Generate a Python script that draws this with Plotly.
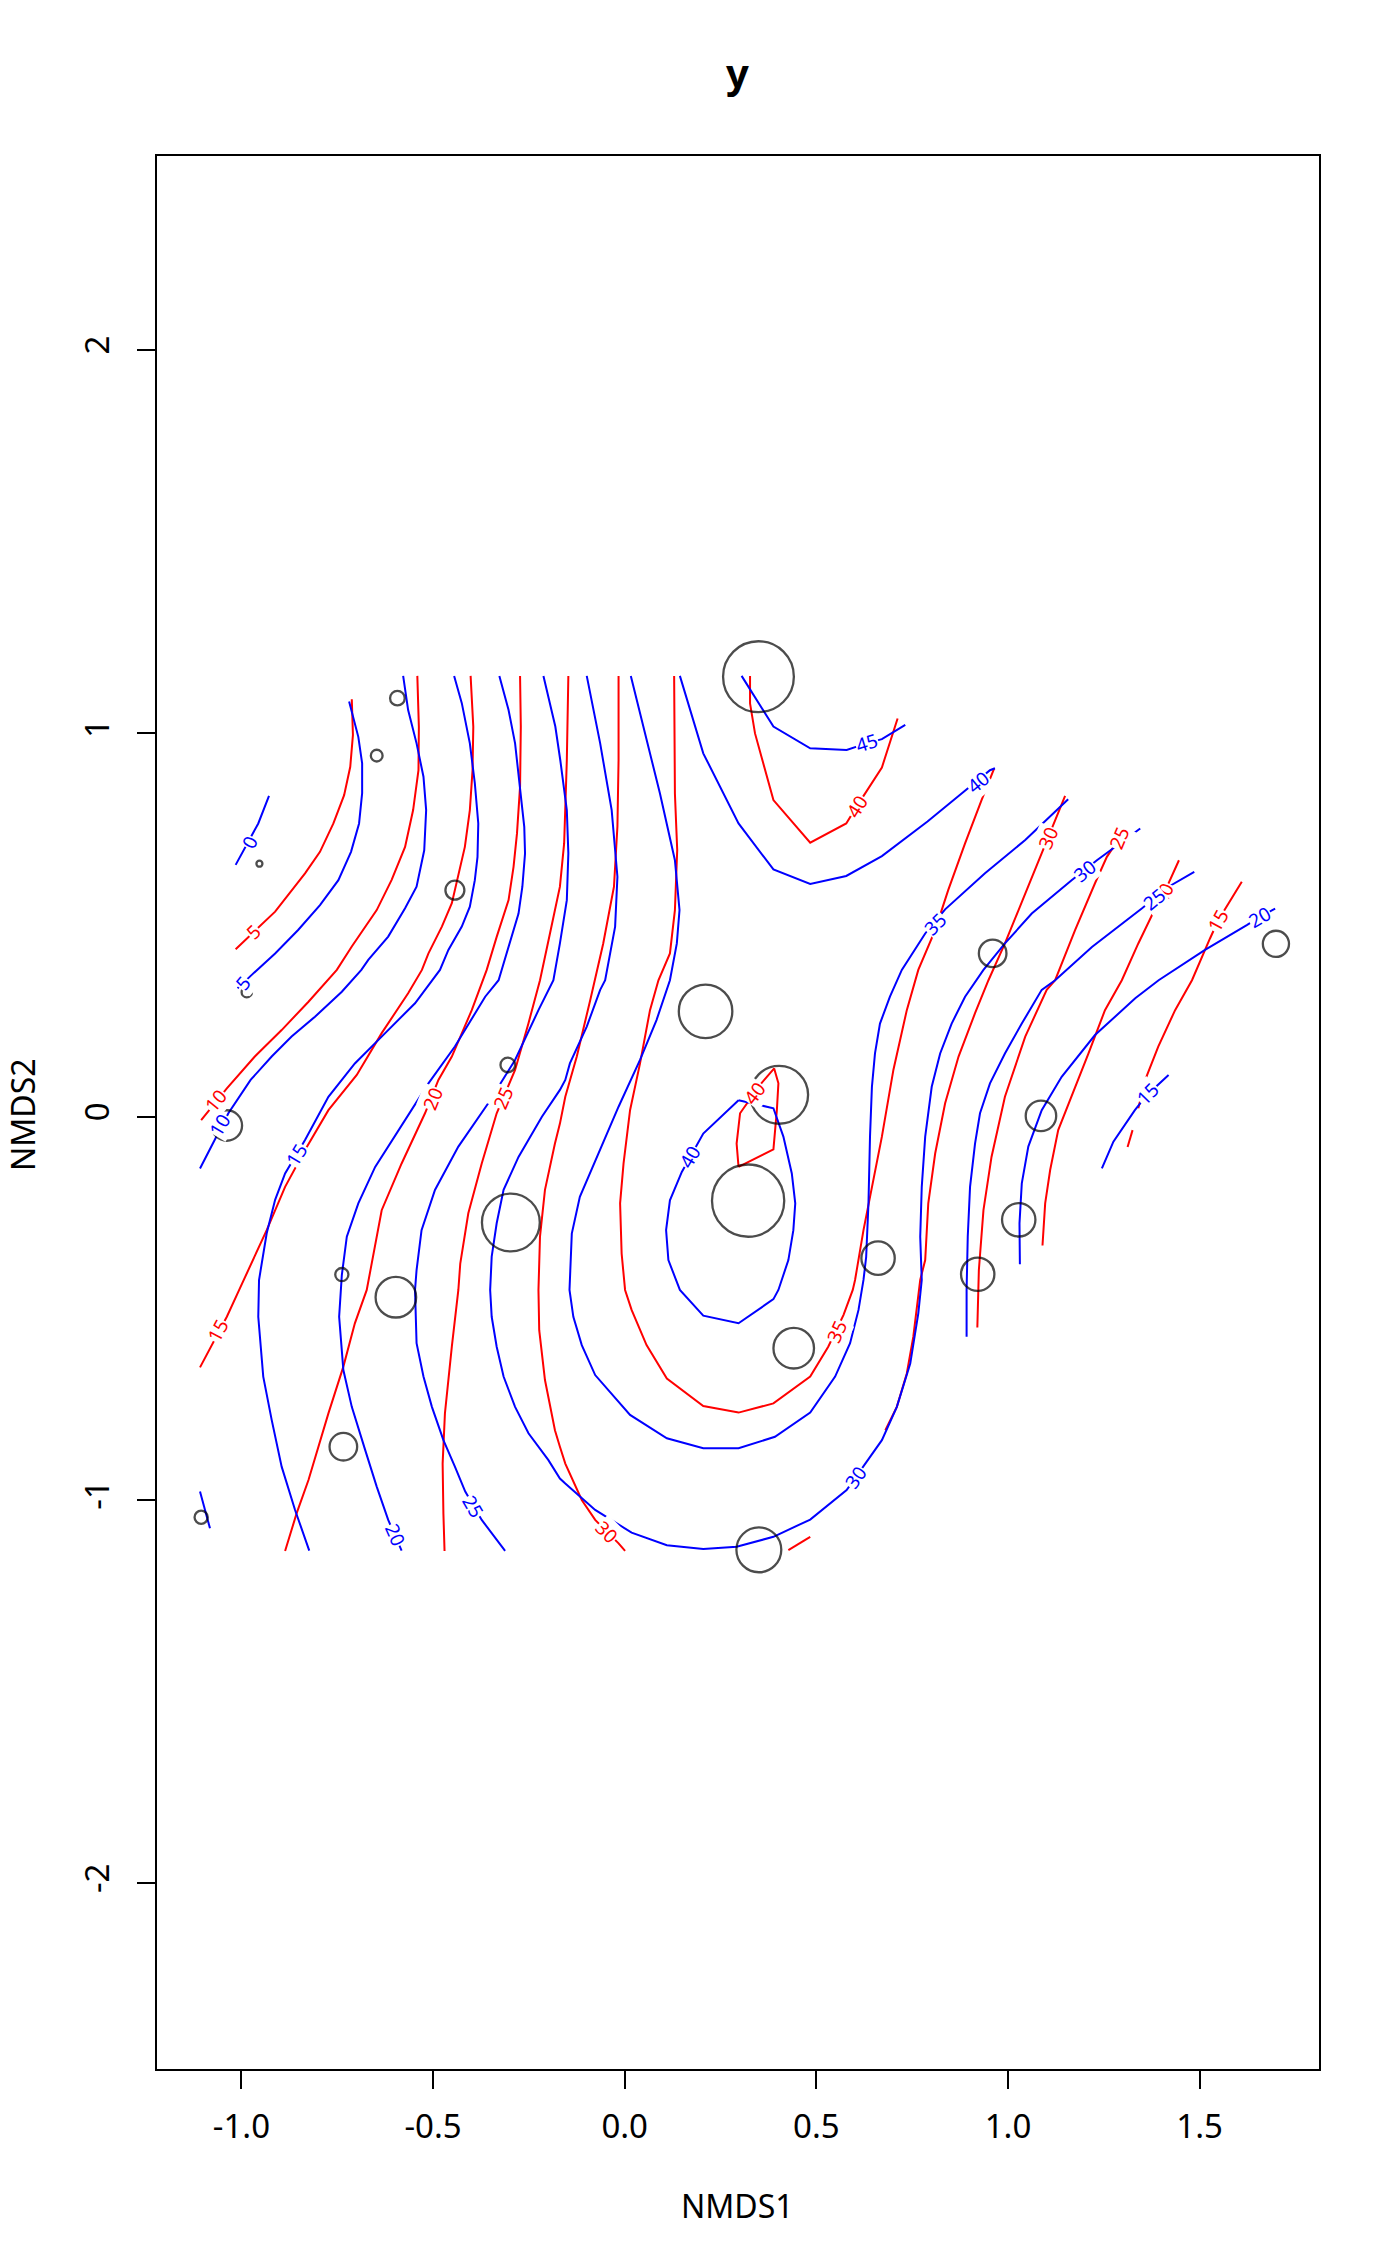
import plotly.graph_objects as go

# site scores on the two NMDS axes, and the response used for bubble size
site_x = [0.349, -0.593, -0.647, -0.953, -0.443, -0.986, -0.305, -1.038, 0.211, 0.403, 0.322, -0.297,
          -0.738, -0.597, -0.734, -1.105, 0.441, 0.661, 0.350, 0.921, 0.960, 1.028, 1.086, 1.699]
site_y = [1.148, 1.092, 0.942, 0.660, 0.591, 0.325, 0.135, -0.023, 0.275, 0.057, -0.219, -0.276,
          -0.412, -0.471, -0.861, -1.045, -0.604, -0.369, -1.130, -0.411, 0.426, -0.269, 0.002, 0.451]
site_resp = [45, 6, 4, 0, 9, 3, 6, 17, 33, 36, 46, 36, 5, 24, 15, 5, 24, 19, 27, 19, 15, 19, 17, 14]

# red surface, contour lines as (NMDS1, NMDS2) points
red_05 = [(-0.712, 1.089), (-0.709, 0.996), (-0.716, 0.913), (-0.732, 0.839), (-0.760, 0.765), (-0.795, 0.691),
          (-0.834, 0.635), (-0.869, 0.591), (-0.912, 0.535), (-1.015, 0.437)]
red_10 = [(-0.541, 1.150), (-0.537, 1.017), (-0.538, 0.904), (-0.552, 0.800), (-0.573, 0.704), (-0.608, 0.618),
          (-0.647, 0.539), (-0.712, 0.444), (-0.751, 0.383), (-0.825, 0.300), (-0.895, 0.226), (-0.965, 0.157),
          (-1.038, 0.074), (-1.105, -0.009)]
red_15 = [(-0.402, 1.150), (-0.395, 1.017), (-0.397, 0.904), (-0.404, 0.800), (-0.417, 0.704), (-0.434, 0.626),
          (-0.451, 0.557), (-0.477, 0.496), (-0.512, 0.426), (-0.529, 0.383), (-0.565, 0.322), (-0.634, 0.218),
          (-0.699, 0.109), (-0.773, 0.017), (-0.834, -0.087), (-0.886, -0.183), (-0.934, -0.296), (-1.004, -0.448),
          (-1.038, -0.522), (-1.108, -0.654)]
red_20 = [(-0.273, 1.150), (-0.271, 1.018), (-0.273, 0.861), (-0.281, 0.739), (-0.290, 0.652), (-0.303, 0.565),
          (-0.334, 0.469), (-0.360, 0.383), (-0.399, 0.278), (-0.451, 0.157), (-0.486, 0.096), (-0.521, 0.009),
          (-0.582, -0.122), (-0.634, -0.244), (-0.673, -0.452), (-0.704, -0.539), (-0.734, -0.652),
          (-0.773, -0.774), (-0.825, -0.948), (-0.856, -1.035), (-0.886, -1.133)]
red_25 = [(-0.147, 1.150), (-0.151, 0.930), (-0.158, 0.713), (-0.169, 0.600), (-0.195, 0.478), (-0.221, 0.356),
          (-0.251, 0.244), (-0.286, 0.122), (-0.334, 0.009), (-0.373, -0.122), (-0.408, -0.252), (-0.429, -0.383),
          (-0.434, -0.452), (-0.451, -0.600), (-0.469, -0.774), (-0.475, -0.905), (-0.473, -1.035), (-0.470, -1.133)]
red_30 = [(-0.016, 1.150), (-0.016, 0.930), (-0.019, 0.757), (-0.028, 0.600), (-0.056, 0.452), (-0.077, 0.356),
          (-0.090, 0.304), (-0.125, 0.157), (-0.155, 0.052), (-0.169, -0.018), (-0.182, -0.070), (-0.208, -0.191),
          (-0.221, -0.313), (-0.225, -0.452), (-0.223, -0.557), (-0.208, -0.687), (-0.182, -0.818),
          (-0.169, -0.861), (-0.155, -0.905), (-0.112, -1.000), (-0.077, -1.052), (-0.016, -1.113), (0.001, -1.133)]
red_35 = [(0.129, 1.150), (0.131, 0.843), (0.137, 0.696), (0.131, 0.539), (0.118, 0.426), (0.088, 0.356),
          (0.066, 0.278), (0.040, 0.139), (0.014, 0.017), (-0.003, -0.122), (-0.012, -0.226), (-0.008, -0.357),
          (0.001, -0.452), (0.018, -0.504), (0.057, -0.596), (0.110, -0.683), (0.205, -0.755), (0.297, -0.772),
          (0.388, -0.748), (0.484, -0.678), (0.531, -0.600), (0.571, -0.517), (0.595, -0.452), (0.601, -0.426),
          (0.623, -0.296), (0.645, -0.183), (0.671, -0.052), (0.701, 0.122), (0.736, 0.278), (0.766, 0.383),
          (0.784, 0.426), (0.810, 0.487), (0.844, 0.591), (0.888, 0.713), (0.931, 0.826), (0.964, 0.909)]
red_40 = [(0.327, 1.150), (0.327, 1.078), (0.340, 1.000), (0.388, 0.826), (0.484, 0.715), (0.578, 0.765),
          (0.605, 0.809), (0.627, 0.843), (0.671, 0.911), (0.712, 1.039)]
red_40_inner = [(0.297, -0.131), (0.388, -0.085), (0.397, 0.017), (0.401, 0.087), (0.390, 0.126), (0.353, 0.083),
                (0.301, 0.009), (0.292, -0.070), (0.297, -0.131)]
red_30_right = [(1.149, 0.837), (1.105, 0.730), (1.088, 0.691), (1.045, 0.582), (0.992, 0.452), (0.962, 0.383),
                (0.949, 0.356), (0.914, 0.270), (0.871, 0.157), (0.836, 0.035), (0.810, -0.096), (0.792, -0.226),
                (0.784, -0.374), (0.771, -0.426), (0.753, -0.574), (0.736, -0.670), (0.710, -0.757), (0.680, -0.818)]
red_30_tail = [(0.484, -1.096), (0.427, -1.131)]
red_25_right = [(1.305, 0.748), (1.258, 0.678), (1.227, 0.609), (1.175, 0.487), (1.123, 0.356), (1.101, 0.331),
                (1.045, 0.209), (0.992, 0.052), (0.957, -0.105), (0.936, -0.244), (0.924, -0.400), (0.923, -0.452),
                (0.920, -0.550)]
red_20_right = [(1.446, 0.669), (1.405, 0.578), (1.384, 0.543), (1.340, 0.452), (1.297, 0.356), (1.253, 0.278),
                (1.210, 0.165), (1.166, 0.052), (1.131, -0.035), (1.110, -0.139), (1.097, -0.226), (1.090, -0.336)]
red_15_right = [(1.610, 0.613), (1.549, 0.513), (1.527, 0.465), (1.480, 0.356), (1.436, 0.278), (1.392, 0.183),
                (1.358, 0.096), (1.340, 0.022)]
red_15_tail = [(1.325, -0.035), (1.312, -0.079)]

# blue surface
blue_00 = [(-1.015, 0.657), (-0.956, 0.765), (-0.928, 0.837)]
blue_05 = [(-0.719, 1.083), (-0.695, 0.991), (-0.685, 0.922), (-0.685, 0.844), (-0.693, 0.765), (-0.714, 0.691),
           (-0.747, 0.617), (-0.795, 0.552), (-0.852, 0.487), (-0.912, 0.426), (-0.973, 0.370), (-1.010, 0.335)]
blue_10 = [(-0.578, 1.150), (-0.565, 1.061), (-0.543, 0.974), (-0.525, 0.887), (-0.518, 0.800), (-0.523, 0.695),
           (-0.543, 0.600), (-0.573, 0.544), (-0.617, 0.470), (-0.669, 0.409), (-0.687, 0.383), (-0.738, 0.326),
           (-0.808, 0.261), (-0.869, 0.209), (-0.921, 0.157), (-0.976, 0.096), (-1.034, 0.009), (-1.108, -0.135)]
blue_15 = [(-0.445, 1.150), (-0.425, 1.079), (-0.404, 0.974), (-0.391, 0.870), (-0.382, 0.765), (-0.384, 0.678),
           (-0.391, 0.617), (-0.404, 0.548), (-0.425, 0.496), (-0.460, 0.435), (-0.482, 0.383), (-0.547, 0.296),
           (-0.634, 0.209), (-0.704, 0.139), (-0.773, 0.052), (-0.834, -0.061), (-0.886, -0.148), (-0.912, -0.217),
           (-0.934, -0.304), (-0.947, -0.382), (-0.954, -0.426), (-0.956, -0.522), (-0.943, -0.678),
           (-0.921, -0.791), (-0.895, -0.913), (-0.860, -1.026), (-0.823, -1.132)]
blue_20 = [(-0.327, 1.150), (-0.303, 1.061), (-0.286, 0.974), (-0.273, 0.861), (-0.262, 0.756), (-0.260, 0.687),
           (-0.267, 0.600), (-0.277, 0.530), (-0.303, 0.443), (-0.329, 0.356), (-0.364, 0.313), (-0.443, 0.183),
           (-0.512, 0.087), (-0.590, -0.035), (-0.651, -0.131), (-0.695, -0.226), (-0.725, -0.313),
           (-0.738, -0.413), (-0.745, -0.522), (-0.734, -0.661), (-0.712, -0.757), (-0.677, -0.870),
           (-0.647, -0.965), (-0.617, -1.052), (-0.582, -1.132)]
blue_25 = [(-0.212, 1.150), (-0.181, 1.018), (-0.168, 0.930), (-0.151, 0.800), (-0.147, 0.687), (-0.151, 0.565),
           (-0.169, 0.452), (-0.186, 0.356), (-0.225, 0.278), (-0.286, 0.148), (-0.356, 0.035), (-0.434, -0.078),
           (-0.495, -0.191), (-0.530, -0.296), (-0.543, -0.400), (-0.547, -0.452), (-0.543, -0.591),
           (-0.525, -0.678), (-0.503, -0.757), (-0.473, -0.844), (-0.443, -0.913), (-0.416, -0.978),
           (-0.373, -1.052), (-0.312, -1.133)]
blue_30 = [(-0.099, 1.150), (-0.064, 0.974), (-0.034, 0.800), (-0.019, 0.626), (-0.025, 0.496), (-0.051, 0.356),
           (-0.064, 0.331), (-0.099, 0.235), (-0.143, 0.139), (-0.155, 0.096), (-0.169, 0.070), (-0.216, 0.000),
           (-0.277, -0.105), (-0.316, -0.191), (-0.334, -0.278), (-0.347, -0.365), (-0.351, -0.452),
           (-0.347, -0.522), (-0.334, -0.600), (-0.316, -0.678), (-0.286, -0.757), (-0.251, -0.826),
           (-0.199, -0.896), (-0.169, -0.944), (-0.155, -0.957), (-0.077, -1.026), (0.018, -1.085),
           (0.110, -1.118), (0.205, -1.128), (0.292, -1.122), (0.388, -1.096), (0.484, -1.051), (0.579, -0.974),
           (0.671, -0.844), (0.710, -0.757), (0.745, -0.644), (0.766, -0.513), (0.775, -0.426), (0.771, -0.313),
           (0.775, -0.183), (0.784, -0.052), (0.797, 0.052), (0.801, 0.078), (0.823, 0.165), (0.853, 0.243),
           (0.888, 0.313), (0.918, 0.356), (0.936, 0.383), (0.992, 0.452), (1.062, 0.530), (1.166, 0.617),
           (1.232, 0.669), (1.345, 0.752)]
blue_35 = [(0.016, 1.150), (0.049, 1.018), (0.092, 0.843), (0.131, 0.669), (0.143, 0.539), (0.136, 0.452),
           (0.118, 0.356), (0.083, 0.252), (0.040, 0.148), (-0.016, 0.026), (-0.073, -0.105), (-0.117, -0.209),
           (-0.138, -0.305), (-0.144, -0.452), (-0.134, -0.522), (-0.112, -0.596), (-0.077, -0.674),
           (0.014, -0.778), (0.110, -0.839), (0.205, -0.865), (0.297, -0.865), (0.392, -0.835), (0.484, -0.772),
           (0.549, -0.678), (0.588, -0.591), (0.610, -0.504), (0.623, -0.426), (0.630, -0.366), (0.636, -0.226),
           (0.640, -0.052), (0.645, 0.078), (0.653, 0.165), (0.666, 0.243), (0.692, 0.313), (0.723, 0.383),
           (0.784, 0.478), (0.836, 0.541), (0.940, 0.635), (1.045, 0.722), (1.157, 0.828)]
blue_40 = [(0.144, 1.150), (0.205, 0.948), (0.297, 0.765), (0.388, 0.645), (0.484, 0.607), (0.578, 0.628),
           (0.671, 0.680), (0.790, 0.770), (0.879, 0.843), (0.953, 0.904), (0.966, 0.909)]
blue_40_inner = [(0.297, 0.043), (0.388, 0.022), (0.414, -0.052), (0.436, -0.148), (0.445, -0.226),
                 (0.440, -0.296), (0.427, -0.374), (0.401, -0.452), (0.388, -0.476), (0.297, -0.539),
                 (0.205, -0.519), (0.144, -0.452), (0.114, -0.374), (0.108, -0.296), (0.118, -0.218),
                 (0.149, -0.144), (0.205, -0.044), (0.297, 0.043)]
blue_45 = [(0.305, 1.150), (0.388, 1.018), (0.484, 0.961), (0.579, 0.957), (0.631, 0.974), (0.671, 0.985),
           (0.732, 1.022)]
blue_25_right = [(1.486, 0.639), (1.419, 0.600), (1.349, 0.543), (1.219, 0.443), (1.123, 0.356), (1.088, 0.331),
                 (1.036, 0.243), (0.992, 0.165), (0.953, 0.087), (0.927, 0.009), (0.914, -0.070),
                 (0.901, -0.183), (0.895, -0.313), (0.892, -0.452), (0.892, -0.574)]
blue_20_right = [(1.697, 0.543), (1.658, 0.522), (1.623, 0.500), (1.514, 0.435), (1.393, 0.356), (1.332, 0.309),
                 (1.227, 0.213), (1.140, 0.104), (1.088, 0.017), (1.053, -0.078), (1.036, -0.174),
                 (1.030, -0.278), (1.031, -0.385)]
blue_15_right = [(1.419, 0.109), (1.362, 0.056), (1.331, 0.017), (1.275, -0.065), (1.245, -0.135)]
blue_corner = [(-1.108, -0.978), (-1.082, -1.074)]

red_lines = [red_05, red_10, red_15, red_20, red_25, red_30, red_35, red_40, red_40_inner,
             red_30_right, red_30_tail, red_25_right, red_20_right, red_15_right, red_15_tail]
blue_lines = [blue_00, blue_05, blue_10, blue_15, blue_20, blue_25, blue_30, blue_35, blue_40,
              blue_40_inner, blue_45, blue_25_right, blue_20_right, blue_15_right, blue_corner]

# contour labels: text, x, y, angle
red_labels = [("5", -0.969, 0.482, -44), ("10", -1.065, 0.043, -51), ("15", -1.060, -0.557, -62),
              ("20", -0.499, 0.048, -68), ("25", -0.316, 0.048, -67), ("30", -0.047, -1.083, 45),
              ("35", 0.553, -0.561, -65), ("40", 0.605, 0.809, -58), ("40", 0.340, 0.061, -53),
              ("30", 1.105, 0.728, -67), ("25", 1.290, 0.728, -67), ("20", 1.405, 0.582, -64),
              ("15", 1.549, 0.513, -61)]
blue_labels = [("0", -0.978, 0.717, -64), ("5", -0.995, 0.348, -50), ("10", -1.056, -0.022, -59),
               ("15", -0.856, -0.100, -59), ("20", -0.599, -1.092, 66), ("25", -0.395, -1.018, 60),
               ("30", 0.604, -0.941, -55), ("40", 0.170, -0.105, -60), ("35", 0.810, 0.504, -45),
               ("40", 0.923, 0.874, -39), ("45", 0.631, 0.974, -17), ("30", 1.200, 0.641, -39),
               ("25", 1.382, 0.569, -39), ("20", 1.658, 0.520, -30), ("15", 1.364, 0.059, -46)]

x_ticks = [-1.0, -0.5, 0.0, 0.5, 1.0, 1.5]
x_tick_text = ["-1.0", "-0.5", "0.0", "0.5", "1.0", "1.5"]
y_ticks = [-2, -1, 0, 1, 2]
y_tick_text = ["-2", "-1", "0", "1", "2"]

FONT = "Noto Sans"

fig = go.Figure()

for line in red_lines:
    fig.add_trace(go.Scatter(x=[p[0] for p in line], y=[p[1] for p in line], mode="lines",
                             line=dict(color="#ff0000", width=2), hoverinfo="skip", showlegend=False))
for line in blue_lines:
    fig.add_trace(go.Scatter(x=[p[0] for p in line], y=[p[1] for p in line], mode="lines",
                             line=dict(color="#0000ff", width=2), hoverinfo="skip", showlegend=False))

# bubbles scaled by the response
fig.add_trace(go.Scatter(
    x=site_x, y=site_y, mode="markers",
    marker=dict(symbol="circle-open", size=[6 + 1.44 * v for v in site_resp],
                color="black", line=dict(width=2.3, color="black")),
    showlegend=False,
    hovertemplate="NMDS1: %{x:.2f}<br>NMDS2: %{y:.2f}<extra></extra>"
))

for labels, col in ((red_labels, "#ff0000"), (blue_labels, "#0000ff")):
    for txt, lx, ly, ang in labels:
        fig.add_annotation(x=lx, y=ly, text=txt, showarrow=False, textangle=ang,
                           font=dict(family=FONT, size=19, color=col),
                           bgcolor="white", borderpad=0)

# title and axis titles
fig.add_annotation(x=0.4996, y=1.0439, xref="paper", yref="paper", text="<b>y</b>", showarrow=False,
                   font=dict(family=FONT, size=40, color="black"), yanchor="middle")
fig.add_annotation(x=0.4996, y=-0.0711, xref="paper", yref="paper", text="NMDS1", showarrow=False,
                   font=dict(family=FONT, size=32, color="black"), yanchor="middle")
fig.add_annotation(x=-0.1153, y=0.4987, xref="paper", yref="paper", text="NMDS2", showarrow=False,
                   textangle=-90, font=dict(family=FONT, size=32, color="black"), xanchor="center")

axis_style = dict(showgrid=False, zeroline=False, showline=True, linecolor="black", linewidth=2,
                  mirror=True, ticks="outside", ticklen=18, tickwidth=2, tickcolor="black",
                  tickfont=dict(family=FONT, size=33, color="black"))

fig.update_xaxes(range=[-1.2202, 1.8114], tickvals=x_ticks, ticktext=x_tick_text,
                 ticklabelstandoff=9, **axis_style)
fig.update_yaxes(range=[-2.4845, 2.5064], tickvals=y_ticks, ticktext=y_tick_text, tickangle=-90,
                 ticklabelstandoff=15, **axis_style)

fig.update_layout(
    width=1400, height=2266,
    margin=dict(l=157, r=81, t=156, b=197),
    paper_bgcolor="white", plot_bgcolor="white",
    font=dict(family=FONT, color="black"),
)

# drop the default page margin so the figure sits at the top-left corner
fig.write_html("out.html", config={"displayModeBar": False},
               post_script="document.body.style.margin = '0';")
